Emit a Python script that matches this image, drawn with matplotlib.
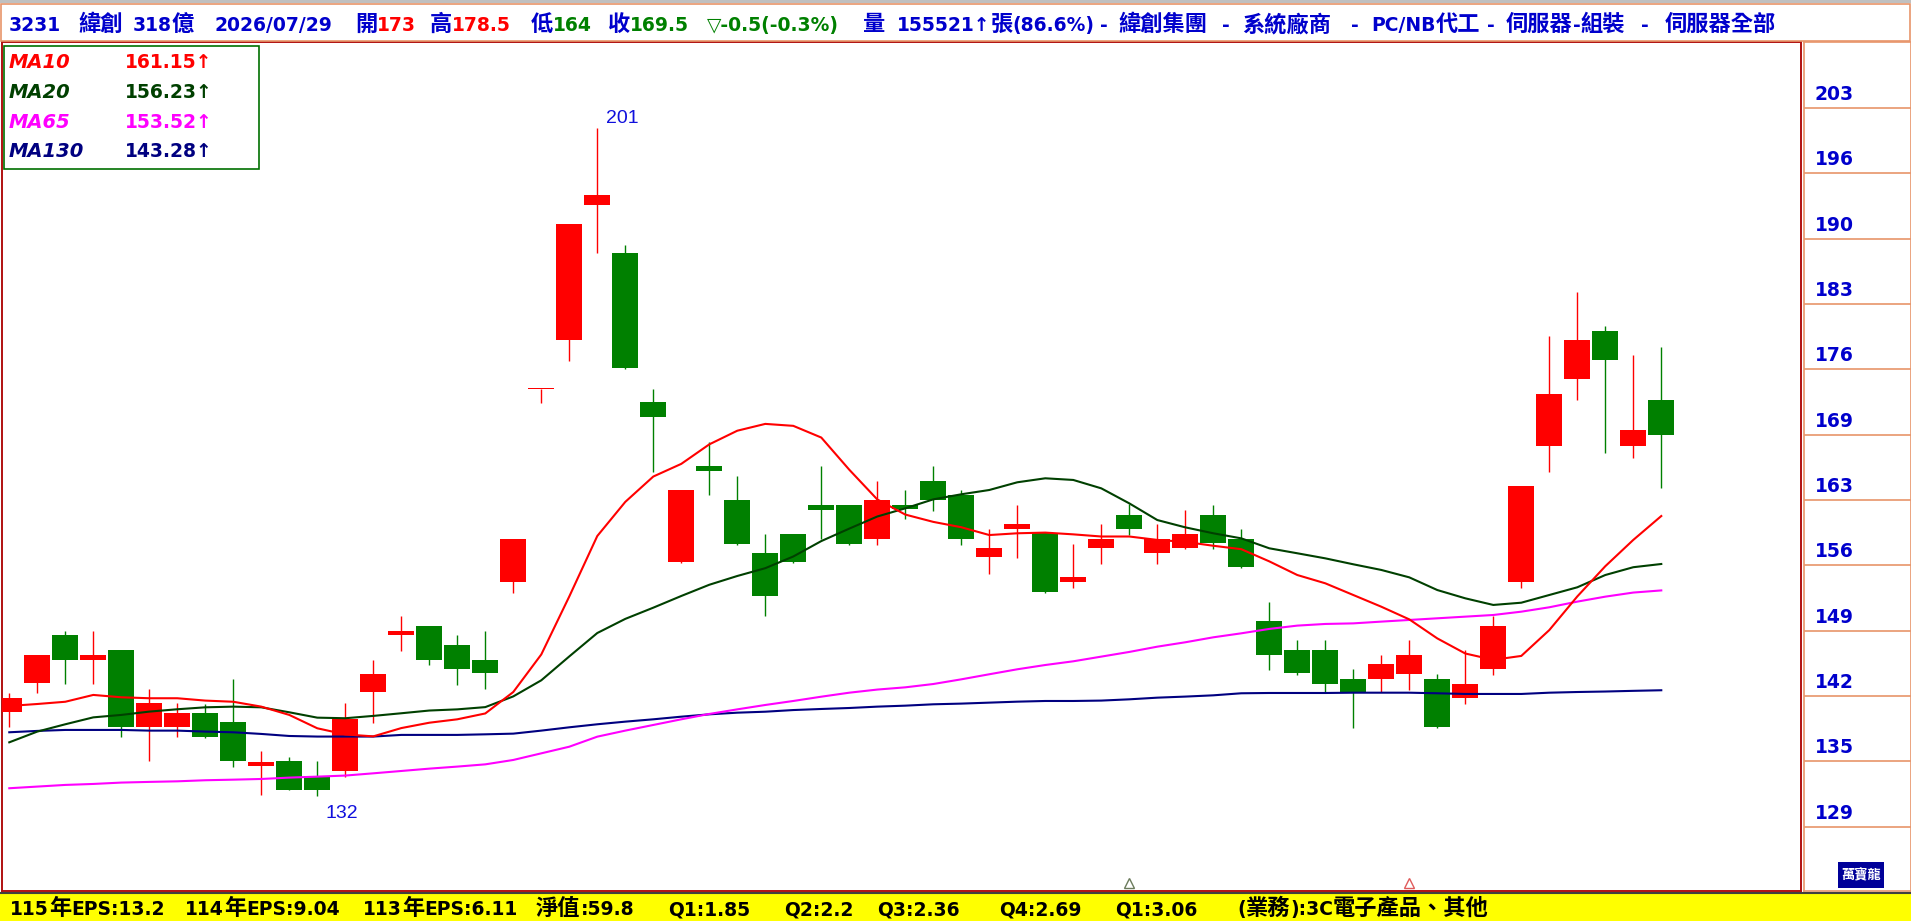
import numpy as np
import matplotlib
matplotlib.use("Agg")
import matplotlib.pyplot as plt
from matplotlib.patches import Rectangle
from matplotlib.lines import Line2D
from matplotlib.transforms import offset_copy, blended_transform_factory

plt.rcParams['font.family'] = ['DejaVu Sans', 'Noto Sans CJK TC']

# daily candles, oldest first (price in NT$)
opens = [141.0, 144.0, 148.95, 146.4, 147.4, 139.55, 139.55, 140.9, 140.0, 135.55,
         136.0, 134.5, 135.0, 143.05, 148.95, 149.9, 147.9, 146.4, 154.4, 174.15,
         179.2, 193.1, 188.1, 172.8, 156.4, 166.3, 162.8, 157.4, 159.3, 162.3,
         162.3, 158.8, 162.25, 164.75, 163.3, 156.9, 159.8, 159.4, 154.4, 157.9,
         161.25, 157.4, 157.9, 161.25, 158.8, 150.4, 147.4, 147.4, 144.4, 144.4,
         144.95, 144.4, 142.5, 145.5, 154.4, 168.3, 175.2, 180.1, 168.3, 173.0]
highs = [143.0, 146.9, 149.4, 149.4, 147.4, 143.4, 141.95, 141.9, 144.4, 137.0,
         136.45, 136.0, 141.95, 146.4, 150.9, 149.9, 148.95, 149.35, 158.8, 174.15,
         191.1, 201.0, 189.0, 174.15, 163.8, 168.7, 165.25, 159.3, 159.3, 166.3,
         162.3, 164.7, 163.8, 166.3, 163.8, 159.8, 162.3, 159.4, 158.25, 160.3,
         162.35, 160.3, 161.8, 162.3, 159.8, 152.3, 148.4, 148.4, 145.5, 146.9,
         148.4, 144.95, 147.4, 150.9, 164.2, 179.6, 184.1, 180.6, 177.7, 178.5]
lows = [139.5, 143.0, 143.9, 143.9, 138.5, 136.0, 138.45, 138.4, 135.45, 132.5,
        133.0, 132.45, 134.4, 139.95, 147.35, 145.9, 143.85, 143.4, 153.3, 172.7,
        177.1, 188.1, 176.2, 165.7, 156.3, 163.3, 158.2, 150.85, 156.3, 158.8,
        158.2, 158.2, 160.8, 161.7, 158.2, 155.2, 156.8, 153.3, 153.8, 156.2,
        159.2, 156.2, 157.8, 157.8, 155.8, 145.4, 144.85, 143.0, 139.45, 143.1,
        143.3, 139.45, 141.9, 144.85, 153.8, 165.7, 173.05, 167.65, 167.1, 164.0]
closes = [142.5, 146.9, 146.4, 146.9, 139.55, 141.95, 140.9, 138.5, 136.05, 135.95,
          133.05, 133.05, 140.35, 144.95, 149.35, 146.4, 145.5, 145.0, 158.8, 174.15,
          191.1, 194.1, 176.3, 171.3, 163.8, 165.8, 158.3, 152.9, 156.4, 161.8,
          158.3, 162.8, 161.85, 162.8, 158.8, 157.9, 160.3, 153.4, 154.9, 158.8,
          159.8, 158.8, 159.3, 158.35, 155.9, 146.9, 145.0, 143.9, 143.1, 146.0,
          146.9, 139.55, 143.9, 149.9, 164.2, 173.7, 179.2, 177.15, 170.0, 169.5]

ma10 = [141.67, 141.87, 142.1, 142.8, 142.56, 142.46, 142.46, 142.22, 142.1, 141.6,
        140.75, 139.38, 138.75, 138.55, 139.4, 139.95, 140.3, 140.9, 143.1, 146.95,
        152.9, 159.1, 162.6, 165.2, 166.5, 168.5, 169.9, 170.6, 170.4, 169.2,
        165.9, 162.85, 161.3, 160.55, 160.0, 159.2, 159.38, 159.45, 159.27, 159.05,
        159.05, 158.7, 158.5, 158.1, 157.75, 156.5, 155.1, 154.25, 153.05, 151.85,
        150.55, 148.6, 147.05, 146.4, 146.8, 149.45, 152.9, 156.0, 158.7, 161.15]
ma20 = [137.94, 139.04, 139.79, 140.5, 140.75, 141.09, 141.33, 141.53, 141.6, 141.53,
        141.02, 140.47, 140.41, 140.65, 140.92, 141.2, 141.32, 141.55, 142.65, 144.3,
        146.75, 149.15, 150.6, 151.75, 152.95, 154.1, 155.0, 155.8, 157.0, 158.58,
        159.86, 161.1, 161.94, 162.86, 163.38, 163.82, 164.61, 165.02, 164.85, 163.99,
        162.45, 160.74, 159.99, 159.38, 158.86, 157.84, 157.33, 156.81, 156.2, 155.62,
        154.86, 153.56, 152.71, 152.03, 152.26, 153.05, 153.84, 155.1, 155.9, 156.23]
ma65 = [133.23, 133.4, 133.57, 133.67, 133.81, 133.88, 133.94, 134.05, 134.11, 134.18,
        134.32, 134.42, 134.53, 134.76, 135.0, 135.24, 135.45, 135.68, 136.13, 136.81,
        137.49, 138.52, 139.14, 139.72, 140.3, 140.85, 141.32, 141.77, 142.18, 142.62,
        143.03, 143.35, 143.58, 143.92, 144.4, 144.92, 145.43, 145.87, 146.25, 146.73,
        147.21, 147.75, 148.2, 148.71, 149.12, 149.57, 149.91, 150.08, 150.14, 150.32,
        150.49, 150.66, 150.83, 151.0, 151.34, 151.79, 152.37, 152.88, 153.3, 153.52]
ma130 = [138.97, 139.11, 139.21, 139.21, 139.21, 139.14, 139.14, 139.04, 138.97, 138.8,
         138.59, 138.53, 138.53, 138.53, 138.7, 138.7, 138.7, 138.76, 138.83, 139.14,
         139.48, 139.79, 140.06, 140.3, 140.57, 140.81, 140.98, 141.08, 141.25, 141.36,
         141.46, 141.6, 141.7, 141.84, 141.91, 142.01, 142.11, 142.18, 142.18, 142.22,
         142.35, 142.52, 142.63, 142.76, 142.97, 143.0, 143.0, 143.0, 143.03, 143.03,
         143.03, 142.97, 142.9, 142.9, 142.9, 143.03, 143.1, 143.15, 143.22, 143.28]

ma_names = ['MA10', 'MA20', 'MA65', 'MA130']
ma_last = ['161.15', '156.23', '153.52', '143.28']
ma_colors = ['#ff0000', '#004000', '#ff00ff', '#000080']

tick_pos = [203.0, 196.3, 189.6, 182.9, 176.2, 169.5, 162.8, 156.1, 149.4, 142.7, 136.0, 129.3]
tick_labels = ['203', '196', '190', '183', '176', '169', '163', '156', '149', '142', '135', '129']

event_idx = [40, 50]
event_colors = ['#6b7b5b', '#e05a5a']

BLUE, RED, GREEN = '#0000cc', '#ff0000', '#008000'
header = [
    (9, [('3231', BLUE)]),
    (78, [('緯創', BLUE)]),
    (133, [('318億', BLUE)]),
    (214, [('2026/07/29', BLUE)]),
    (355, [('開', BLUE), ('173', RED)]),
    (430, [('高', BLUE), ('178.5', RED)]),
    (531, [('低', BLUE), ('164', GREEN)]),
    (608, [('收', BLUE), ('169.5', GREEN)]),
    (707, [('▽-0.5(-0.3%)', GREEN)]),
    (863, [('量', BLUE)]),
    (897, [('155521↑張(86.6%)', BLUE)]),
    (1100, [('-', BLUE)]),
    (1118, [('緯創集團', BLUE)]),
    (1222, [('-', BLUE)]),
    (1242, [('系統廠商', BLUE)]),
    (1351, [('-', BLUE)]),
    (1371, [('PC/NB代工', BLUE)]),
    (1487, [('-', BLUE)]),
    (1506, [('伺服器-組裝', BLUE)]),
    (1641, [('-', BLUE)]),
    (1665, [('伺服器全部', BLUE)]),
]
footer = ['115年EPS:13.2', '114年EPS:9.04', '113年EPS:6.11', '淨值:59.8', 'Q1:1.85',
          'Q2:2.2', 'Q3:2.36', 'Q4:2.69', 'Q1:3.06', '(業務):3C電子產品、其他']
footer_x = [10, 185, 363, 536, 668, 784, 877, 999, 1115, 1237]

# ---- figure in pixel units ----
W, H = 1911, 921
fig = plt.figure(figsize=(W / 100, H / 100), dpi=100)
renderer = fig.canvas.get_renderer()


def box(x0, y0, x1, y1):
    return [x0 / W, 1 - y1 / H, (x1 - x0) / W, (y1 - y0) / H]


def rect(x0, y0, x1, y1, **kw):
    r = Rectangle((x0 / W, 1 - y1 / H), (x1 - x0) / W, (y1 - y0) / H,
                  transform=fig.transFigure, **kw)
    fig.add_artist(r)
    return r


def ftext(x, y, s, **kw):
    return fig.text(x / W, 1 - y / H, s, **kw)


def run(x, y, s, color, size=13.5, cjk_size=16):
    # latin in DejaVu, CJK in a larger Noto so the widths follow the original
    segs = []
    for ch in s:
        cjk = ord(ch) >= 0x2E80
        if segs and segs[-1][1] == cjk:
            segs[-1][0] += ch
        else:
            segs.append([ch, cjk])
    for seg, cjk in segs:
        if cjk:
            t = ftext(x, y, seg, color=color, fontsize=cjk_size, fontweight='bold',
                      family=['Noto Sans CJK TC'], va='baseline')
        else:
            t = ftext(x, y, seg, color=color, fontsize=size, fontweight='bold',
                      family=['DejaVu Sans', 'Noto Sans CJK TC'], va='baseline')
        x += t.get_window_extent(renderer).width
    return x


# header strip
rect(0, 0, W, 3.5, fc='#c0c0c0', ec='none')
rect(1, 4.5, W - 1, 41, fc='white', ec='#e8956a', lw=1.2)
for x0, pieces in header:
    x = x0
    for s, c in pieces:
        x = run(x, 31, s, c)

# main price panel
ax = fig.add_axes(box(2, 42, 1801, 891))
ax.set_xlim(-0.26, 63.99)
ax.set_ylim(122.69, 209.77)
ax.set_xticks([])
ax.set_yticks([])
for sp in ax.spines.values():
    sp.set_color('#b01010')
    sp.set_linewidth(1.4)

o = np.array(opens)
c = np.array(closes)
hi = np.array(highs)
lo = np.array(lows)
idx = np.arange(len(c))
col = np.where(c >= o, RED, GREEN)
ax.vlines(idx, lo, hi, colors=col, lw=1.0, zorder=2)
ax.bar(idx, np.maximum(np.abs(c - o), 0.1), bottom=np.minimum(o, c), width=0.93,
       color=col, lw=0, zorder=3)

for vals, colr in zip([ma130, ma65, ma20, ma10], ma_colors[::-1]):
    ax.plot(idx, vals, color=colr, lw=1.5, zorder=4)

imax, imin = int(np.argmax(hi)), int(np.argmin(lo))
ax.text(imax, hi[imax], f'{hi[imax]:.0f}', color='#1010dd', fontsize=14,
        family='Liberation Sans', ha='left', va='baseline',
        transform=offset_copy(ax.transData, fig=fig, x=9, y=5, units='dots'))
ax.text(imin, lo[imin], f'{lo[imin]:.0f}', color='#1010dd', fontsize=14,
        family='Liberation Sans', ha='left', va='baseline',
        transform=offset_copy(ax.transData, fig=fig, x=8, y=-22, units='dots'))

btrans = blended_transform_factory(ax.transData, ax.transAxes)
for k, ec in zip(event_idx, event_colors):
    ax.plot([k], [0.009], marker='^', ms=7, mfc='none', mec=ec, mew=1.0,
            transform=btrans, zorder=5, clip_on=False)

# price scale panel
ax2 = fig.add_axes(box(1804, 42, W, 891))
ax2.set_xlim(0, 1)
ax2.set_ylim(ax.get_ylim())
ax2.set_xticks([])
ax2.set_yticks([])
for sp in ax2.spines.values():
    sp.set_color('#e8956a')
    sp.set_linewidth(1.2)
lab_tr = offset_copy(ax2.get_yaxis_transform(), fig=fig, x=0, y=8, units='dots')
for p, lab in zip(tick_pos, tick_labels):
    ax2.axhline(p, color='#e8956a', lw=1.2)
    ax2.text(11 / 107, p, lab, transform=lab_tr, color=BLUE, fontsize=13.5,
             fontweight='bold', ha='left', va='baseline')

# moving-average legend box
rect(4, 46, 259, 169, fc='white', ec='#007000', lw=1.2, zorder=6)
for i, (nm, val, colr) in enumerate(zip(ma_names, ma_last, ma_colors)):
    yb = 68 + 29.8 * i
    ftext(9, yb, nm, color=colr, fontsize=14, fontweight='bold', style='italic',
          va='baseline', zorder=7)
    ftext(125, yb, val + '↑', color=colr, fontsize=13.5, fontweight='bold',
          va='baseline', zorder=7)

# logo
rect(1838, 862, 1884, 888, fc='#000099', ec='none', zorder=6)
ftext(1861, 875, '萬寶龍', color='white', fontsize=9.5, fontweight='bold',
      family='Noto Sans CJK TC', ha='center', va='center', zorder=7)

# footer bar
rect(0, 893, W, H, fc='#ffff00', ec='none')
fig.add_artist(Line2D([0, 1], [1 - 892.5 / H] * 2, transform=fig.transFigure,
                      color='#404040', lw=1.5))
for x, s in zip(footer_x, footer):
    run(x, 915, s, 'black')

fig.savefig('out.png', dpi=100)
